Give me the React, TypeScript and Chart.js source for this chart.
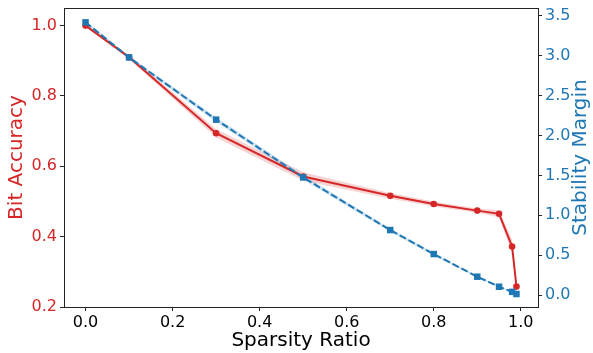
import React, { useEffect, useRef } from "react";
import { Chart, registerables } from "chart.js";

Chart.register(...registerables);

const sparsity = [0, 0.1, 0.3, 0.5, 0.7, 0.8, 0.9, 0.95, 0.98, 0.99];
const bitAcc = [1.0, 0.91, 0.694, 0.571, 0.516, 0.493, 0.474, 0.465, 0.372, 0.258];
const bitAccStd = [0.003, 0.005, 0.012, 0.012, 0.008, 0.007, 0.006, 0.01, 0.02, 0.01];
const stability = [3.42, 2.98, 2.2, 1.475, 0.815, 0.514, 0.23, 0.104, 0.04, 0.013];
const stabilityStd = [0.02, 0.02, 0.03, 0.03, 0.02, 0.02, 0.01, 0.01, 0.01, 0.01];

const xTicks = [0, 0.2, 0.4, 0.6, 0.8, 1.0];
const leftTicks = [0.2, 0.4, 0.6, 0.8, 1.0];
const rightTicks = [0, 0.5, 1.0, 1.5, 2.0, 2.5, 3.0, 3.5];

const RED = "#d62728";
const BLUE = "#1f77b4";
const FONT = "'DejaVu Sans', sans-serif";
const RIGHT_TITLE = "Stability Margin";

const pts = (ys: number[]) => sparsity.map((x, i) => ({ x, y: ys[i] }));

const framePlugin = {
  id: "frame",
  afterDatasetsDraw(chart: any) {
    const { ctx, chartArea } = chart;
    ctx.save();
    ctx.strokeStyle = "#222";
    ctx.lineWidth = 1;
    ctx.strokeRect(
      Math.round(chartArea.left) + 0.5,
      Math.round(chartArea.top) + 0.5,
      Math.round(chartArea.right - chartArea.left),
      Math.round(chartArea.bottom - chartArea.top)
    );
    // right axis title, reading bottom-to-top
    ctx.fillStyle = BLUE;
    ctx.font = `20px ${FONT}`;
    ctx.textAlign = "center";
    ctx.textBaseline = "middle";
    ctx.translate(chart.width - 12, (chartArea.top + chartArea.bottom) / 2);
    ctx.rotate(-Math.PI / 2);
    ctx.fillText(RIGHT_TITLE, 0, 0);
    ctx.restore();
  },
};

export default function App() {
  const ref = useRef<HTMLCanvasElement | null>(null);

  useEffect(() => {
    if (!ref.current) return;
    const chart = new Chart(ref.current, {
      type: "line",
      data: {
        datasets: [
          {
            label: "Stability Margin",
            data: pts(stability),
            yAxisID: "y1",
            borderColor: BLUE,
            backgroundColor: BLUE,
            borderWidth: 2,
            borderDash: [7, 3],
            pointStyle: "rect",
            pointRadius: 4.6,
            pointBorderWidth: 0,
            fill: false,
            order: 0,
          },
          {
            label: "stab-lo",
            data: pts(stability.map((v, i) => v - stabilityStd[i])),
            yAxisID: "y1",
            borderWidth: 0,
            pointRadius: 0,
            fill: false,
            order: 3,
          },
          {
            label: "stab-hi",
            data: pts(stability.map((v, i) => v + stabilityStd[i])),
            yAxisID: "y1",
            borderWidth: 0,
            pointRadius: 0,
            fill: "-1",
            backgroundColor: "rgba(31,119,180,0.2)",
            order: 3,
          },
          {
            label: "Bit Accuracy",
            data: pts(bitAcc),
            yAxisID: "y",
            borderColor: RED,
            backgroundColor: RED,
            borderWidth: 2,
            pointStyle: "circle",
            pointRadius: 3.3,
            pointBorderWidth: 0,
            fill: false,
            order: 1,
          },
          {
            label: "acc-lo",
            data: pts(bitAcc.map((v, i) => v - bitAccStd[i])),
            yAxisID: "y",
            borderWidth: 0,
            pointRadius: 0,
            fill: false,
            order: 4,
          },
          {
            label: "acc-hi",
            data: pts(bitAcc.map((v, i) => v + bitAccStd[i])),
            yAxisID: "y",
            borderWidth: 0,
            pointRadius: 0,
            fill: "-1",
            backgroundColor: "rgba(214,39,40,0.2)",
            order: 4,
          },
        ],
      },
      options: {
        animation: false,
        responsive: false,
        layout: { padding: { top: 8, left: 0, right: 0, bottom: 0 } },
        plugins: {
          legend: { display: false },
          tooltip: { enabled: false },
        },
        scales: {
          x: {
            type: "linear",
            min: -0.0495,
            max: 1.0395,
            afterBuildTicks: (s: any) => {
              s.ticks = xTicks.map((v) => ({ value: v }));
            },
            afterFit: (s: any) => {
              s.height = 46;
              s.paddingLeft = 0;
              s.paddingRight = 0;
            },
            ticks: {
              color: "#000",
              font: { family: FONT, size: 16 },
              padding: 2,
              maxRotation: 0,
              callback: (v: any) => Number(v).toFixed(1),
            },
            grid: { drawOnChartArea: false, drawTicks: true, tickLength: 4, tickColor: "#222" },
            border: { display: true, color: "#222", width: 1 },
            title: {
              display: true,
              text: "Sparsity Ratio",
              color: "#000",
              font: { family: FONT, size: 20 },
              padding: { top: 0, bottom: 0 },
            },
          },
          y: {
            type: "linear",
            position: "left",
            min: 0.2,
            max: 1.05,
            afterBuildTicks: (s: any) => {
              s.ticks = leftTicks.map((v) => ({ value: v }));
            },
            afterFit: (s: any) => {
              s.width = 64;
              s.paddingTop = 0;
              s.paddingBottom = 0;
            },
            ticks: {
              color: RED,
              font: { family: FONT, size: 16 },
              padding: 3,
              callback: (v: any) => Number(v).toFixed(1),
            },
            grid: { drawOnChartArea: false, drawTicks: true, tickLength: 4, tickColor: "#222" },
            border: { display: true, color: "#222", width: 1 },
            title: {
              display: true,
              text: "Bit Accuracy",
              color: RED,
              font: { family: FONT, size: 20 },
              padding: { top: 5, bottom: 0 },
            },
          },
          y1: {
            type: "linear",
            position: "right",
            min: -0.15,
            max: 3.6,
            afterBuildTicks: (s: any) => {
              s.ticks = rightTicks.map((v) => ({ value: v }));
            },
            afterFit: (s: any) => {
              s.width = 55;
              s.paddingTop = 0;
              s.paddingBottom = 0;
            },
            ticks: {
              color: BLUE,
              font: { family: FONT, size: 16 },
              padding: 3,
              callback: (v: any) => Number(v).toFixed(1),
            },
            grid: { drawOnChartArea: false, drawTicks: true, tickLength: 4, tickColor: "#222" },
            border: { display: true, color: "#222", width: 1 },
            title: { display: false, text: RIGHT_TITLE },
          },
        },
      },
      plugins: [framePlugin],
    } as any);
    return () => chart.destroy();
  }, []);

  return (
    <div style={{ position: "absolute", left: 0, top: 0, width: 593, height: 353, background: "#fff" }}>
      <canvas ref={ref} width={593} height={353} />
    </div>
  );
}
